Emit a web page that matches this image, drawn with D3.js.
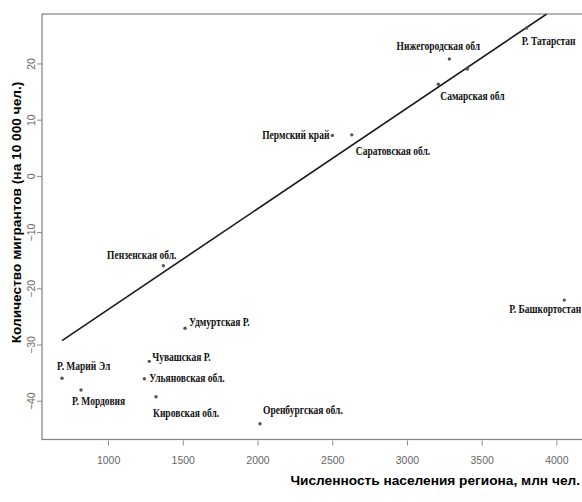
<!DOCTYPE html>
<html><head><meta charset="utf-8">
<script src="https://cdn.jsdelivr.net/npm/d3@7"></script>
<style>body{margin:0;background:#fff}svg{display:block}</style>
</head><body>
<svg id="c" width="582" height="502"></svg>
<script>
const regions = ["Р. Марий Эл","Р. Мордовия","Пензенская обл.","Удмуртская Р.","Чувашская Р.","Ульяновская обл.","Кировская обл.","Оренбургская обл.","Р. Башкортостан","Пермский край","Саратовская обл.","Нижегородская обл","Самарская обл","Р. Татарстан",""];
const population = [692,819,1370,1515,1276,1243,1321,2017,4053,2501,2631,3284,3210,3801,3404];
const migrants = [-36.0,-38.1,-16.0,-27.1,-33.0,-36.1,-39.3,-44.1,-22.1,7.2,7.3,20.8,16.3,26.3,19.0];
const fitX = [692,3935];
const fitY = [-29.3,28.8];
const xTicks = [1000,1500,2000,2500,3000,3500,4000];
const yTicks = [-40,-30,-20,-10,0,10,20];
const xTitle = "Численность населения региона, млн чел.";
const yTitle = "Количество мигрантов (на 10 000 чел.)";
// label placement: [dx, dy, anchor]
const labelPlace = [[-5,-8,"start"],[-9,15,"start"],[13,-7,"end"],[4,-2,"start"],[3,0,"start"],[5,3,"start"],[-3,20,"start"],[3,-10,"start"],[17,13,"end"],[-3,4,"end"],[4,20,"start"],[-11,-9,"middle"],[2,16,"start"],[-5,17,"start"],[0,0,"start"]];

const svg = d3.select("#c");
const L=42, T=14, B=439.5, R=600;
const x = d3.scaleLinear().domain([558,4292]).range([L,R]);
const y = d3.scaleLinear().domain([-46.9,28.8]).range([B,T]);

svg.append("defs").append("clipPath").attr("id","clip")
  .append("rect").attr("x",L).attr("y",T).attr("width",R-L).attr("height",B-T);

// box
svg.append("rect").attr("x",L).attr("y",T).attr("width",R-L).attr("height",B-T)
  .attr("fill","none").attr("stroke","#808080").attr("stroke-width",1.2);

// x axis
const xa = svg.append("g").attr("transform",`translate(0,${B})`)
  .call(d3.axisBottom(x).tickValues(xTicks).tickSize(6).tickPadding(11).tickFormat(d3.format("d")));
xa.select(".domain").remove();
xa.selectAll("line").attr("stroke","#888").attr("y1",1);
xa.selectAll("text").attr("fill","#666").style("font-family","'Liberation Sans Narrow','Liberation Sans',Arial,sans-serif").style("font-size","10.5px");

// y axis
const ya = svg.append("g").attr("transform",`translate(${L},0)`)
  .call(d3.axisLeft(y).tickValues(yTicks).tickSize(5).tickFormat(d3.format("d")));
ya.select(".domain").remove();
ya.selectAll("line").attr("stroke","#888");
ya.selectAll("text").attr("fill","#666").attr("x",null).attr("dy",null)
  .attr("text-anchor","middle")
  .attr("transform","translate(-7,0) rotate(-90)")
  .style("font-family","'Liberation Sans Narrow','Liberation Sans',Arial,sans-serif").style("font-size","10.5px");

// regression line
svg.append("line").attr("clip-path","url(#clip)")
  .attr("x1",x(fitX[0])).attr("y1",y(fitY[0])).attr("x2",x(fitX[1])).attr("y2",y(fitY[1]))
  .attr("stroke","#1a1a1a").attr("stroke-width",1.6);

// points
svg.append("g").selectAll("circle").data(population).join("circle")
  .attr("cx",(d)=>x(d)).attr("cy",(d,i)=>y(migrants[i])).attr("r",1.7).attr("fill","#555");

// labels
svg.append("g").selectAll("text").data(regions).join("text")
  .attr("transform",(d,i)=>`translate(${x(population[i])+labelPlace[i][0]},${y(migrants[i])+labelPlace[i][1]}) scale(0.73,1)`)
  .attr("text-anchor",(d,i)=>labelPlace[i][2])
  .style("font-family","'Liberation Serif','Times New Roman',serif").style("font-weight","bold").style("font-size","13px")
  .attr("fill","#111").text(d=>d);

// titles
svg.append("text").attr("x",580).attr("y",485).attr("text-anchor","end")
  .style("font-family","'Liberation Sans',Arial,sans-serif").style("font-weight","bold").style("font-size","13.7px")
  .attr("fill","#000").text(xTitle);
svg.append("text").attr("transform","translate(20.5,212.5) rotate(-90)").attr("text-anchor","middle")
  .style("font-family","'Liberation Sans',Arial,sans-serif").style("font-weight","bold").style("font-size","13.7px")
  .attr("fill","#000").text(yTitle);
</script>
</body></html>
